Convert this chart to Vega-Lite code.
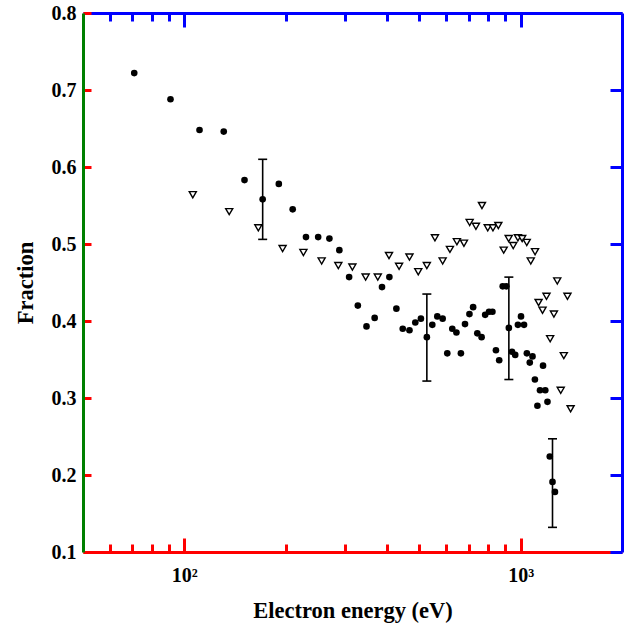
{
  "$schema": "https://vega.github.io/schema/vega-lite/v6.json",
  "width": 539,
  "height": 539,
  "autosize": {"type": "none"},
  "padding": {"left": 83, "top": 13, "right": 4, "bottom": 72},
  "background": "white",
  "datasets": {
    "filled": [
      {"energy": 71, "fraction": 0.722}, {"energy": 91, "fraction": 0.688}, {"energy": 111, "fraction": 0.648},
      {"energy": 131, "fraction": 0.646}, {"energy": 151, "fraction": 0.583}, {"energy": 171, "fraction": 0.558},
      {"energy": 191, "fraction": 0.578}, {"energy": 210, "fraction": 0.545}, {"energy": 230, "fraction": 0.509},
      {"energy": 250, "fraction": 0.509}, {"energy": 270, "fraction": 0.507}, {"energy": 289, "fraction": 0.492},
      {"energy": 309, "fraction": 0.457}, {"energy": 328, "fraction": 0.420}, {"energy": 348, "fraction": 0.393},
      {"energy": 368, "fraction": 0.404}, {"energy": 387, "fraction": 0.444}, {"energy": 407, "fraction": 0.457},
      {"energy": 427, "fraction": 0.416}, {"energy": 446, "fraction": 0.390}, {"energy": 467, "fraction": 0.388},
      {"energy": 486, "fraction": 0.398}, {"energy": 505, "fraction": 0.403}, {"energy": 526, "fraction": 0.379},
      {"energy": 546, "fraction": 0.395}, {"energy": 565, "fraction": 0.406}, {"energy": 586, "fraction": 0.403},
      {"energy": 605, "fraction": 0.358}, {"energy": 626, "fraction": 0.390}, {"energy": 644, "fraction": 0.385},
      {"energy": 664, "fraction": 0.358}, {"energy": 683, "fraction": 0.396}, {"energy": 704, "fraction": 0.409},
      {"energy": 722, "fraction": 0.418}, {"energy": 743, "fraction": 0.384}, {"energy": 765, "fraction": 0.379},
      {"energy": 784, "fraction": 0.408}, {"energy": 805, "fraction": 0.412}, {"energy": 824, "fraction": 0.412},
      {"energy": 844, "fraction": 0.362}, {"energy": 863, "fraction": 0.349}, {"energy": 884, "fraction": 0.445},
      {"energy": 906, "fraction": 0.445}, {"energy": 922, "fraction": 0.391}, {"energy": 942, "fraction": 0.360},
      {"energy": 963, "fraction": 0.356}, {"energy": 981, "fraction": 0.395}, {"energy": 1002, "fraction": 0.406},
      {"energy": 1023, "fraction": 0.395}, {"energy": 1043, "fraction": 0.358}, {"energy": 1064, "fraction": 0.346},
      {"energy": 1084, "fraction": 0.354}, {"energy": 1102, "fraction": 0.324}, {"energy": 1121, "fraction": 0.290},
      {"energy": 1141, "fraction": 0.310}, {"energy": 1165, "fraction": 0.342}, {"energy": 1183, "fraction": 0.310},
      {"energy": 1201, "fraction": 0.295}, {"energy": 1220, "fraction": 0.224}, {"energy": 1243, "fraction": 0.191},
      {"energy": 1264, "fraction": 0.178}
    ],
    "open": [
      {"energy": 106, "fraction": 0.564}, {"energy": 136, "fraction": 0.542}, {"energy": 166, "fraction": 0.521},
      {"energy": 196, "fraction": 0.494}, {"energy": 226, "fraction": 0.489}, {"energy": 256, "fraction": 0.478},
      {"energy": 287, "fraction": 0.472}, {"energy": 316, "fraction": 0.470}, {"energy": 346, "fraction": 0.457},
      {"energy": 376, "fraction": 0.457}, {"energy": 406, "fraction": 0.485}, {"energy": 435, "fraction": 0.471},
      {"energy": 467, "fraction": 0.483}, {"energy": 496, "fraction": 0.464}, {"energy": 526, "fraction": 0.472},
      {"energy": 556, "fraction": 0.508}, {"energy": 586, "fraction": 0.478}, {"energy": 616, "fraction": 0.493},
      {"energy": 646, "fraction": 0.503}, {"energy": 678, "fraction": 0.501}, {"energy": 705, "fraction": 0.528},
      {"energy": 736, "fraction": 0.523}, {"energy": 767, "fraction": 0.550}, {"energy": 798, "fraction": 0.521},
      {"energy": 827, "fraction": 0.521}, {"energy": 858, "fraction": 0.524}, {"energy": 890, "fraction": 0.492},
      {"energy": 921, "fraction": 0.507}, {"energy": 950, "fraction": 0.498}, {"energy": 981, "fraction": 0.508},
      {"energy": 1010, "fraction": 0.507}, {"energy": 1042, "fraction": 0.502}, {"energy": 1071, "fraction": 0.478},
      {"energy": 1103, "fraction": 0.490}, {"energy": 1130, "fraction": 0.424}, {"energy": 1161, "fraction": 0.414},
      {"energy": 1193, "fraction": 0.432}, {"energy": 1223, "fraction": 0.377}, {"energy": 1255, "fraction": 0.409},
      {"energy": 1284, "fraction": 0.452}, {"energy": 1315, "fraction": 0.310}, {"energy": 1343, "fraction": 0.355},
      {"energy": 1377, "fraction": 0.432}, {"energy": 1407, "fraction": 0.286}
    ],
    "err": [
      {"energy": 171, "lo": 0.506, "hi": 0.610},
      {"energy": 526, "lo": 0.322, "hi": 0.435},
      {"energy": 922, "lo": 0.324, "hi": 0.457},
      {"energy": 1243, "lo": 0.132, "hi": 0.247}
    ]
  },
  "layer": [
    {
      "data": {"name": "filled"},
      "mark": {"type": "point", "shape": "circle", "filled": true, "size": 44, "color": "black", "opacity": 1},
      "encoding": {
        "x": {
          "field": "energy", "type": "quantitative",
          "scale": {"type": "log", "domain": [50, 2000], "nice": false},
          "axis": {
            "orient": "bottom",
            "values": [60, 70, 80, 90, 100, 200, 300, 400, 500, 600, 700, 800, 900, 1000],
            "grid": false,
            "domainColor": "red",
            "domainWidth": 3,
            "tickColor": "red",
            "tickWidth": 3,
            "tickSize": {"condition": {"test": "datum.value == 100 || datum.value == 1000", "value": -14}, "value": -8},
            "labelExpr": "datum.value == 100 ? '10²' : (datum.value == 1000 ? '10³' : '')",
            "labelFont": "Liberation Serif",
            "labelFontWeight": "bold",
            "labelFontSize": 20,
            "labelColor": "#000000",
            "labelOverlap": false,
            "labelFlush": false,
            "labelPadding": 27,
            "title": "Electron energy (eV)",
            "titleFont": "Liberation Serif",
            "titleFontWeight": "bold",
            "titleFontSize": 22.5,
            "titleColor": "#000000",
            "titleY": 58,
            "titleBaseline": "middle"
          }
        },
        "y": {
          "field": "fraction", "type": "quantitative",
          "scale": {"domain": [0.1, 0.8], "nice": false, "zero": false},
          "axis": {
            "orient": "left",
            "offset": -8,
            "values": [0.1, 0.2, 0.3, 0.4, 0.5, 0.6, 0.7, 0.8],
            "format": ".1f",
            "grid": false,
            "domain": false,
            "tickColor": "red",
            "tickWidth": 3,
            "tickSize": 8,
            "labelFont": "Liberation Serif",
            "labelFontWeight": "bold",
            "labelFontSize": 20,
            "labelColor": "#000000",
            "labelPadding": 7,
            "labelFlush": false,
            "title": "Fraction",
            "titleFont": "Liberation Serif",
            "titleFontWeight": "bold",
            "titleFontSize": 22.5,
            "titleColor": "#000000",
            "titleX": -66,
            "titleY": 269.5,
            "titleAngle": -90,
            "titleAlign": "center",
            "titleBaseline": "middle"
          }
        }
      }
    },
    {
      "data": {"name": "open"},
      "mark": {"type": "point", "shape": "triangle-down", "filled": true, "fill": "white", "stroke": "black", "strokeWidth": 1.4, "size": 50, "opacity": 1},
      "encoding": {
        "x": {
          "field": "energy", "type": "quantitative",
          "axis": {
            "orient": "top",
            "values": [60, 70, 80, 90, 100, 200, 300, 400, 500, 600, 700, 800, 900, 1000],
            "grid": false,
            "domainColor": "blue",
            "domainWidth": 3,
            "tickColor": "blue",
            "tickWidth": 3,
            "tickSize": {"condition": {"test": "datum.value == 100 || datum.value == 1000", "value": -14}, "value": -8},
            "labels": false,
            "title": null
          }
        },
        "y": {
          "field": "fraction", "type": "quantitative",
          "axis": {
            "orient": "right",
            "values": [0.1, 0.2, 0.3, 0.4, 0.5, 0.6, 0.7, 0.8],
            "grid": false,
            "domainColor": "blue",
            "domainWidth": 3,
            "tickColor": "blue",
            "tickWidth": 3,
            "tickSize": -12,
            "labels": false,
            "title": null
          }
        }
      }
    },
    {
      "data": {"name": "err"},
      "mark": {"type": "rule", "color": "black", "strokeWidth": 1.6},
      "encoding": {
        "x": {"field": "energy", "type": "quantitative", "axis": {"orient": "top", "grid": false, "domain": false, "ticks": false, "labels": false, "title": null}},
        "y": {
          "field": "lo", "type": "quantitative",
          "axis": {"orient": "left", "grid": false, "domainColor": "green", "domainWidth": 3, "ticks": false, "labels": false, "title": null}
        },
        "y2": {"field": "hi"}
      }
    },
    {
      "data": {"name": "err"},
      "mark": {"type": "tick", "orient": "horizontal", "color": "black", "size": 9, "thickness": 1.6, "opacity": 1},
      "encoding": {
        "x": {"field": "energy", "type": "quantitative", "axis": {"orient": "top", "grid": false, "domain": false, "ticks": false, "labels": false, "title": null}},
        "y": {"field": "lo", "type": "quantitative", "axis": {"orient": "right", "grid": false, "domain": false, "ticks": false, "labels": false, "title": null}}
      }
    },
    {
      "data": {"name": "err"},
      "mark": {"type": "tick", "orient": "horizontal", "color": "black", "size": 9, "thickness": 1.6, "opacity": 1},
      "encoding": {
        "x": {"field": "energy", "type": "quantitative", "axis": {"orient": "top", "grid": false, "domain": false, "ticks": false, "labels": false, "title": null}},
        "y": {"field": "hi", "type": "quantitative", "axis": {"orient": "right", "grid": false, "domain": false, "ticks": false, "labels": false, "title": null}}
      }
    }
  ],
  "resolve": {"axis": {"x": "independent", "y": "independent"}}
}
